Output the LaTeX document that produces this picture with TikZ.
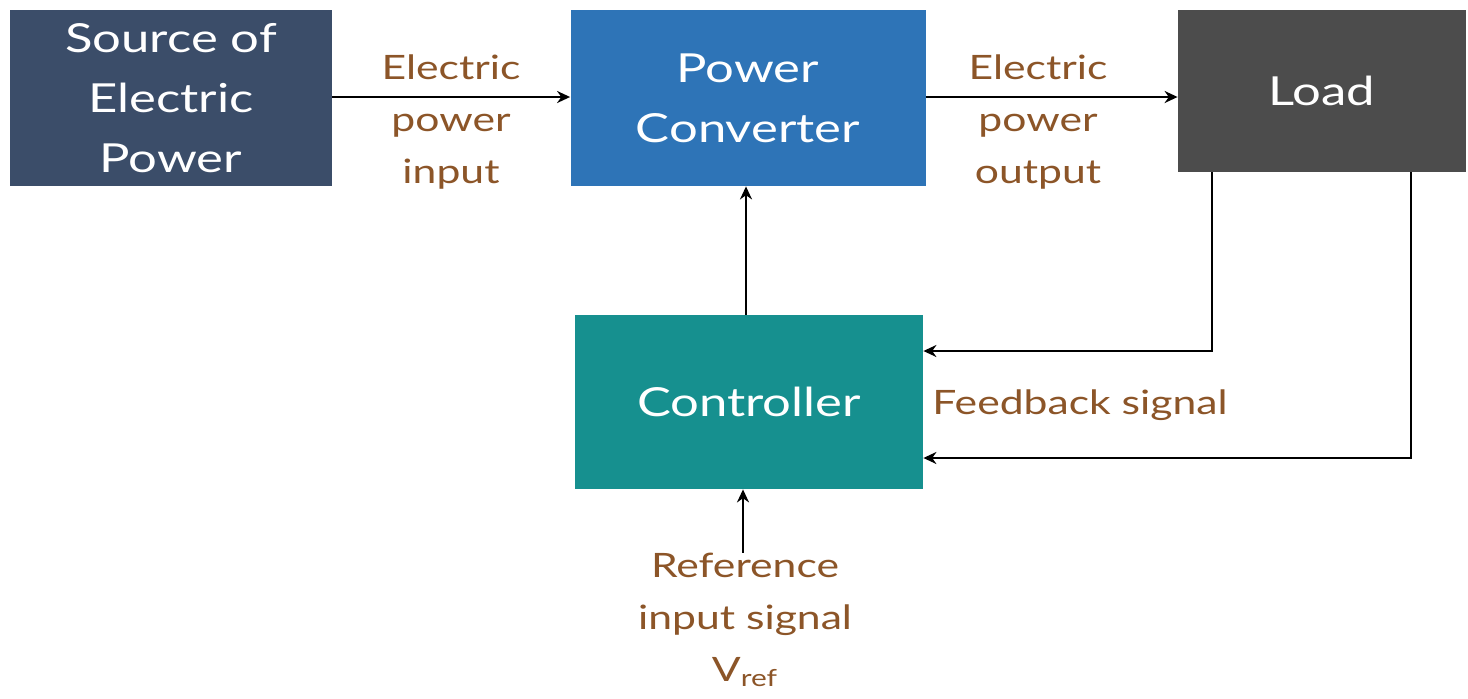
\documentclass[tikz,border=0pt]{standalone}
\usepackage{fontspec}
\setmainfont[FakeStretch=1.27]{Lato}
\usetikzlibrary{arrows.meta,calc}
\definecolor{srccol}{RGB}{59,77,105}
\definecolor{convcol}{RGB}{46,116,183}
\definecolor{loadcol}{RGB}{76,76,76}
\definecolor{ctrlcol}{RGB}{22,144,143}
\definecolor{lblcol}{RGB}{140,85,40}
\begin{document}
\begin{tikzpicture}[x=0.5pt,y=-0.5pt,
  blockbox/.style={rectangle, draw=none, text=white, align=center, inner sep=0pt,
    font=\fontsize{20}{30}\selectfont},
  lbl/.style={text=lblcol, align=center, inner sep=0pt, font=\fontsize{16.8}{26}\selectfont},
  arr/.style={draw=black, line width=1.45pt, -{Stealth[length=6.5pt,width=6pt]}}]
\useasboundingbox (0,0) rectangle (1468,698);
\fill[white] (0,0) rectangle (1468,698);

\node[blockbox, fill=srccol, minimum width=161pt, minimum height=88pt] (src) at (171,98) {Source of\\Electric\\Power};
\node[blockbox, fill=convcol, minimum width=177.5pt, minimum height=88pt] (conv) at (748,98) {Power\\Converter};
\node[blockbox, fill=loadcol, minimum width=144pt, minimum height=81pt] (load) at (1322,91) {Load};
\node[blockbox, fill=ctrlcol, minimum width=174pt, minimum height=87pt] (ctrl) at (749,402) {Controller};

\node[lbl] (inlbl) at (451,122) {Electric\\power\\input};
\node[lbl] (outlbl) at (1038,122) {Electric\\power\\output};
\node[lbl, anchor=west] (fblbl) at (932,405) {Feedback signal};
\node[lbl] (reflbl) at (745,620) {Reference\\input signal\\V\textsubscript{ref}};

\coordinate (fb1) at (1212,172);
\coordinate (fb2) at (1411,172);

\draw[arr] (src.east |- 0,97) -- (conv.west |- 0,97);
\draw[arr] (conv.east |- 0,97) -- (load.west |- 0,97);
\draw[arr] (ctrl.north -| 746,0) -- (conv.south -| 746,0);
\draw[arr] (reflbl.north -| 743,0) -- (ctrl.south -| 743,0);
\draw[arr] (fb1) |- (ctrl.east |- 0,351);
\draw[arr] (fb2) |- (ctrl.east |- 0,458);
\end{tikzpicture}
\end{document}
